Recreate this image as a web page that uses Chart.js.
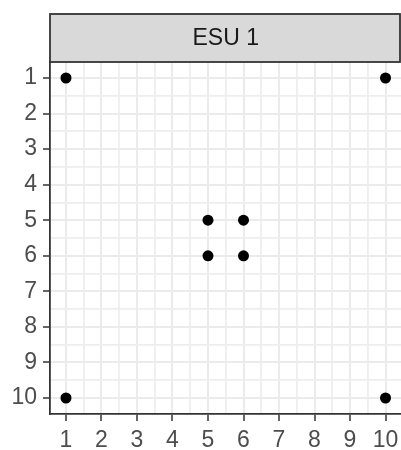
<!DOCTYPE html>
<html>
<head>
<meta charset="utf-8">
<script src="https://cdn.jsdelivr.net/npm/chart.js@4"></script>
<style>
  html, body { margin: 0; background: #fff; overflow: hidden; }
</style>
</head>
<body>
<canvas id="grid" width="407" height="450"></canvas>
<script>
const STRIP_LABEL = "ESU 1"
const xValues = [1, 10, 5, 6, 5, 6, 1, 10]
const yValues = [1, 1, 5, 5, 6, 6, 10, 10]
const tickLabels = [1, 2, 3, 4, 5, 6, 7, 8, 9, 10]

const points = xValues.map((x, i) => ({ x: x, y: yValues[i] }))

// major breaks at the labels, minor breaks halfway between them
const gridValues = []
tickLabels.forEach((v, i) => {
    gridValues.push(v)
    if (i < tickLabels.length - 1) gridValues.push(v + 0.5)
})

const FONT = { family: "'Liberation Sans', Arial, sans-serif", size: 23 }

const isMajor = (ctx) => ctx.tick && Number.isInteger(ctx.tick.value)

const axisTicks = (padding) => ({
    autoSkip: false,
    maxRotation: 0,
    padding: padding,
    color: "#4d4d4d",
    font: FONT,
    callback: (value) => Number.isInteger(value) ? value : ""
})

const axis = (extra) => Object.assign({
    type: "linear",
    min: 0.55,
    max: 10.45,
    afterBuildTicks: (scale) => {
        scale.ticks = gridValues.map(v => ({ value: v }))
    },
    grid: {
        color: (ctx) => isMajor(ctx) ? "#ebebeb" : "#eeeeee",
        lineWidth: (ctx) => isMajor(ctx) ? 2 : 1.8,
        tickColor: (ctx) => isMajor(ctx) ? "#333333" : "rgba(0,0,0,0)",
        tickLength: 7,
        tickWidth: 1.5
    },
    border: { display: true, color: "#333333", width: 1.8 }
}, extra)

// grey facet strip above the panel
const stripPlugin = {
    id: "strip",
    afterDraw: (chart) => {
        const { ctx, chartArea } = chart
        const top = 14
        const right = Math.min(chartArea.right, 400)
        ctx.save()
        ctx.fillStyle = "#d9d9d9"
        ctx.fillRect(chartArea.left, top, right - chartArea.left, chartArea.top - top)
        ctx.strokeStyle = "#333333"
        ctx.lineWidth = 1.8
        ctx.strokeRect(chartArea.left, top, right - chartArea.left, chartArea.top - top)
        ctx.fillStyle = "#1a1a1a"
        ctx.font = `${FONT.size}px ${FONT.family}`
        ctx.textAlign = "center"
        ctx.textBaseline = "middle"
        ctx.fillText(STRIP_LABEL, (chartArea.left + chartArea.right) / 2, (top + chartArea.top) / 2 + 1)
        ctx.restore()
    }
}

const context = document.getElementById("grid").getContext("2d")
const gridChart = new Chart(context, {
    type: "scatter",
    data: {
        datasets: [{
            data: points,
            backgroundColor: "#000000",
            borderWidth: 0,
            pointRadius: 5.5,
            pointHoverRadius: 5.5
        }]
    },
    options: {
        responsive: false,
        animation: false,
        layout: {
            padding: { top: 62, right: 0, bottom: 0, left: 0 }
        },
        plugins: {
            legend: { display: false },
            tooltip: { enabled: false }
        },
        scales: {
            x: axis({
                position: "bottom",
                afterFit: (scale) => {
                    scale.height = 36
                    scale.paddingLeft = 0
                    scale.paddingRight = 0
                },
                ticks: axisTicks(6)
            }),
            y: axis({
                position: "left",
                reverse: true,
                afterFit: (scale) => {
                    scale.width = 50
                    scale.paddingTop = 0
                    scale.paddingBottom = 0
                },
                ticks: axisTicks(6)
            })
        }
    },
    plugins: [stripPlugin]
})
</script>
</body>
</html>
